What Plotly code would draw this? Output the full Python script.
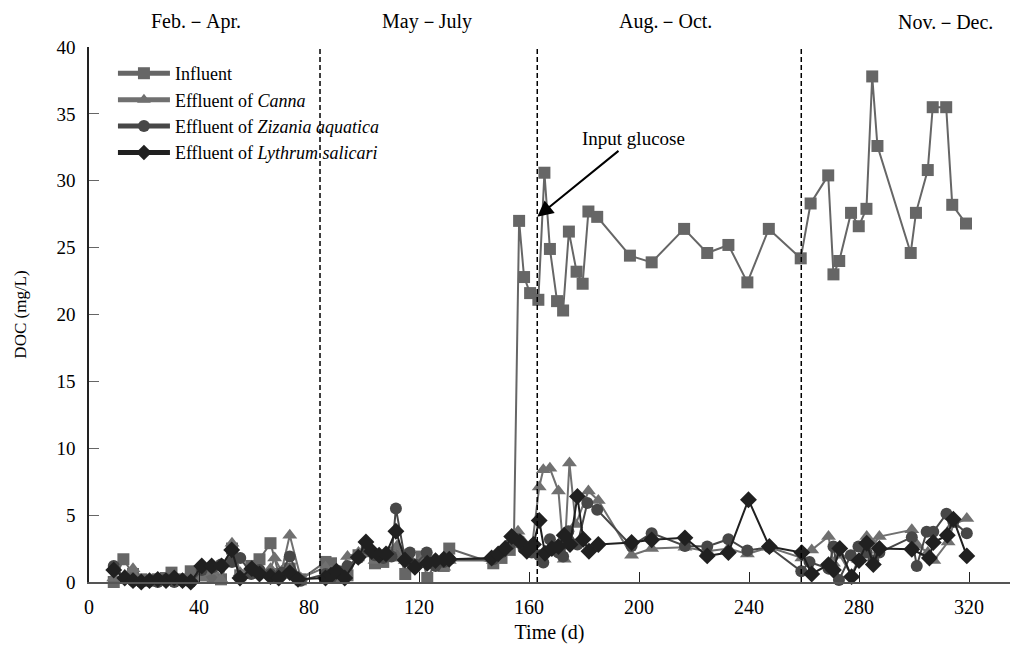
import plotly.graph_objects as go

# ---------------- data ----------------
influent_days = [9, 12.5, 16, 19, 22, 25, 28, 30, 34, 37, 41, 45, 48, 52, 55, 59, 62, 66, 69, 73, 77,
                 86, 88, 91, 94, 98, 101, 104, 107, 110, 113, 115, 118, 121, 123, 126, 129, 131,
                 147, 150, 153, 154.5, 156.4, 158.2, 160.4, 163.4, 165.6, 167.6, 170.2, 172.4, 174.5,
                 177.3, 179.5, 181.6, 184.8, 196.7, 204.6, 216.4, 224.8, 232.5, 239.4, 247.2,
                 258.8, 262.4, 268.8, 270.7, 272.8, 277.1, 279.9, 282.7, 284.8, 286.7, 298.8,
                 300.7, 305.0, 306.8, 311.7, 313.9, 318.9]
influent_doc = [0.0, 1.7, 0.6, 0.2, 0.1, 0.2, 0.3, 0.7, 0.2, 0.8, 0.5, 0.3, 0.2, 2.5, 0.5, 1.2, 1.7, 2.9, 0.6, 1.0, 0.2,
                1.5, 1.4, 0.4, 0.5, 2.0, 2.3, 1.4, 1.5, 2.2, 2.0, 0.6, 1.2, 1.9, 0.3, 1.4, 1.2, 2.5,
                1.4, 1.8, 2.4, 3.0, 27.0, 22.8, 21.6, 21.1, 30.6, 24.9, 21.0, 20.3, 26.2,
                23.2, 22.3, 27.7, 27.3, 24.4, 23.9, 26.4, 24.6, 25.2, 22.4, 26.4,
                24.2, 28.3, 30.4, 23.0, 24.0, 27.6, 26.6, 27.9, 37.8, 32.6, 24.6,
                27.6, 30.8, 35.5, 35.5, 28.2, 26.8]

canna_days = [9, 13, 16, 19, 22, 25, 28, 31, 34, 37, 41, 45, 48, 52, 55, 59, 62, 66, 67.5, 70, 73, 77,
              86, 88, 91, 94, 98, 101, 104, 107, 110, 112, 115, 118, 121, 123, 126, 129, 131,
              147, 150, 153, 156, 158, 161, 163.7, 165.2, 167.6, 170.7, 172.8, 174.7, 177, 181.6, 185.2,
              197.3, 204.6, 216.7, 224.8, 232.5, 239.4, 247.4, 259.2, 262.8, 268.9, 270.7, 273,
              277.3, 279.8, 282.8, 285.2, 287.4, 299.2, 301, 305, 307.2, 312.4, 314.3, 319.2]
canna_doc = [0.3, 0.5, 1.0, 0.1, 0.2, 0.1, 0.3, 0.1, 0.2, 0.1, 0.3, 0.8, 0.2, 2.9, 0.7, 0.5, 0.8, 1.0, 1.8, 0.8, 3.5, 0.3,
             1.1, 0.8, 0.6, 1.9, 2.2, 2.6, 1.6, 2.0, 1.8, 2.7, 1.6, 1.4, 1.7, 1.5, 1.3, 1.1, 1.6,
             1.6, 2.2, 2.8, 3.8, 3.0, 2.5, 7.1, 8.4, 8.5, 6.8, 1.7, 8.9, 4.3, 6.8, 6.1,
             2.0, 2.5, 2.6, 2.3, 2.5, 2.1, 2.6, 1.8, 2.4, 3.4, 1.4, 2.0,
             0.5, 1.7, 3.4, 2.8, 3.4, 3.9, 2.8, 2.2, 1.6, 3.0, 4.3, 4.75]

zizania_days = [9, 13, 16, 19, 22, 25, 28, 31, 34, 37, 41, 45, 48, 52, 55, 59, 62, 66, 70, 73, 77,
                86, 88, 91, 94, 98, 101, 104, 107, 110, 111.6, 115, 116.7, 118.5, 122.8, 126, 129, 131,
                147, 150, 153, 156, 158, 161, 163.7, 165.2, 167.6, 170.7, 172.4, 174.3, 177.6, 181.2, 184.8,
                197.3, 204.6, 216.7, 224.8, 232.5, 239.4, 247.4, 259, 262, 268.9, 270.7, 272.7,
                277, 279.8, 282.8, 285.2, 287.4, 299.2, 301, 304.6, 307, 311.8, 314.3, 319.2]
zizania_doc = [1.2, 0.3, 0.1, 0.0, 0.1, 0.0, 0.2, 0.0, 0.1, 0.0, 0.9, 1.1, 1.3, 1.5, 1.8, 0.6, 0.9, 0.6, 0.7, 1.9, 0.1,
               0.6, 0.3, 0.8, 1.2, 1.8, 2.5, 2.0, 1.8, 1.9, 5.5, 1.6, 2.2, 1.3, 2.2, 1.2, 1.5, 1.7,
               1.7, 2.2, 2.8, 3.2, 2.5, 2.2, 2.0, 1.45, 3.2, 2.2, 1.9, 3.8, 2.8, 5.9, 5.4,
               2.7, 3.65, 2.7, 2.65, 3.2, 2.35, 2.6, 0.8, 1.5, 1.0, 2.65, 0.15,
               2.0, 2.65, 2.2, 1.6, 2.2, 3.35, 1.2, 3.75, 3.75, 5.1, 4.5, 3.65]

lythrum_days = [9, 13, 16, 19, 22, 25, 28, 31, 34, 37, 41, 44.6, 48.2, 51.9, 54.9, 59.2, 62, 66, 69, 73, 76,
                86, 88, 90, 93, 97.9, 100.7, 102.8, 105.5, 108, 111.6, 114.9, 118.5, 123, 126, 129, 131,
                146.4, 148.8, 151.3, 153.7, 156.7, 159.2, 161.6, 163.7, 165.8, 168.3, 170.7, 172.8, 174.9,
                177.6, 179.7, 181.8, 185.2, 197.3, 204.6, 216.7, 224.8, 232.5, 239.8, 247.4, 259.2,
                262.8, 268.9, 270.7, 273, 277.3, 280, 282.8, 285.2, 287.4, 299.2, 305.6, 307, 312.1, 314.3, 319.2]
lythrum_doc = [0.9, 0.3, 0.1, 0.0, 0.1, 0.2, 0.1, 0.3, 0.1, 0.0, 1.2, 1.2, 1.2, 2.4, 0.3, 1.0, 0.6, 0.4, 0.3, 0.7, 0.2,
               0.3, 0.5, 0.8, 0.3, 1.85, 3.0, 2.3, 2.0, 2.1, 3.8, 1.65, 1.1, 1.4, 1.6, 1.7, 1.7,
               1.8, 2.1, 2.5, 3.4, 3.0, 2.3, 2.8, 4.6, 2.15, 2.5, 2.65, 3.5, 2.8,
               6.4, 3.2, 2.3, 2.8, 2.95, 3.15, 3.3, 1.95, 2.2, 6.15, 2.65, 2.2,
               0.6, 1.3, 0.9, 2.5, 0.4, 1.6, 2.9, 1.3, 2.5, 2.45, 1.8, 2.95, 3.5, 4.7, 1.95]

series_names = ["Influent", "Effluent of <i>Canna</i>",
                "Effluent of <i>Zizania aquatica</i>", "Effluent of <i>Lythrum salicari</i>"]
period_bounds = [84, 163, 259]
period_labels = ["Feb.－Apr.", "May－July", "Aug.－Oct.", "Nov.－Dec."]
period_label_days = [39, 123, 209.5, 311.5]
x_ticks = [0, 40, 80, 120, 160, 200, 240, 280, 320]
y_ticks = [0, 5, 10, 15, 20, 25, 30, 35, 40]
glucose_day, glucose_doc = 163, 27.3

# ---------------- figure ----------------
FONT = "Liberation Serif, Times New Roman, serif"
styles = [
    dict(symbol="square", color="#666666", size=12),
    dict(symbol="triangle-up", color="#707070", size=13),
    dict(symbol="circle", color="#474747", size=12),
    dict(symbol="diamond", color="#202020", size=13),
]
data = [(influent_days, influent_doc), (canna_days, canna_doc),
        (zizania_days, zizania_doc), (lythrum_days, lythrum_doc)]

fig = go.Figure()
for (xs, ys), name, st in zip(data, series_names, styles):
    fig.add_trace(go.Scatter(
        x=xs, y=ys, name=name, mode="lines+markers",
        line=dict(color=st["color"], width=2),
        marker=dict(symbol=st["symbol"], color=st["color"], size=st["size"]),
        cliponaxis=False,
    ))

for b in period_bounds:
    fig.add_shape(type="line", xref="x", yref="paper", x0=b, x1=b, y0=0, y1=1,
                  line=dict(color="black", width=1.5, dash="5px,3px"))

for lab, d in zip(period_labels, period_label_days):
    fig.add_annotation(x=d, y=1.047, xref="x", yref="paper", text=lab, showarrow=False,
                       yanchor="middle",
                       font=dict(family=FONT, size=20, color="black"))

fig.add_annotation(x=glucose_day, y=glucose_doc, xref="x", yref="y", text="Input glucose",
                   showarrow=True, ax=96, ay=-78, arrowhead=2, arrowsize=1.6, arrowwidth=2,
                   arrowcolor="black", standoff=0,
                   font=dict(family=FONT, size=19, color="black"))

fig.update_layout(
    width=1012, height=648,
    margin=dict(l=89, r=2, t=47, b=66),
    paper_bgcolor="white", plot_bgcolor="white",
    font=dict(family=FONT, size=19, color="black"),
    showlegend=True,
    legend=dict(x=0.026, y=0.985, xanchor="left", yanchor="top",
                bgcolor="rgba(0,0,0,0)", font=dict(family=FONT, size=18),
                tracegroupgap=0, itemwidth=52, itemsizing="constant"),
    xaxis=dict(range=[0, 334.9], tickvals=x_ticks, ticks="inside", ticklen=10,
               tickcolor="#222", showline=True, linecolor="#555", linewidth=1.5,
               showgrid=False, zeroline=False, ticklabelstandoff=6,
               title=dict(text="Time (d)", standoff=8, font=dict(size=20)),
               tickfont=dict(size=20)),
    yaxis=dict(range=[0, 40], tickvals=y_ticks, ticks="inside", ticklen=10,
               tickcolor="#666", showline=True, linecolor="#222", linewidth=1.5,
               showgrid=False, zeroline=False, ticklabelstandoff=8,
               title=dict(text="DOC (mg/L)", standoff=26, font=dict(size=17)),
               tickfont=dict(size=19)),
)

fig.write_html("out.html")
